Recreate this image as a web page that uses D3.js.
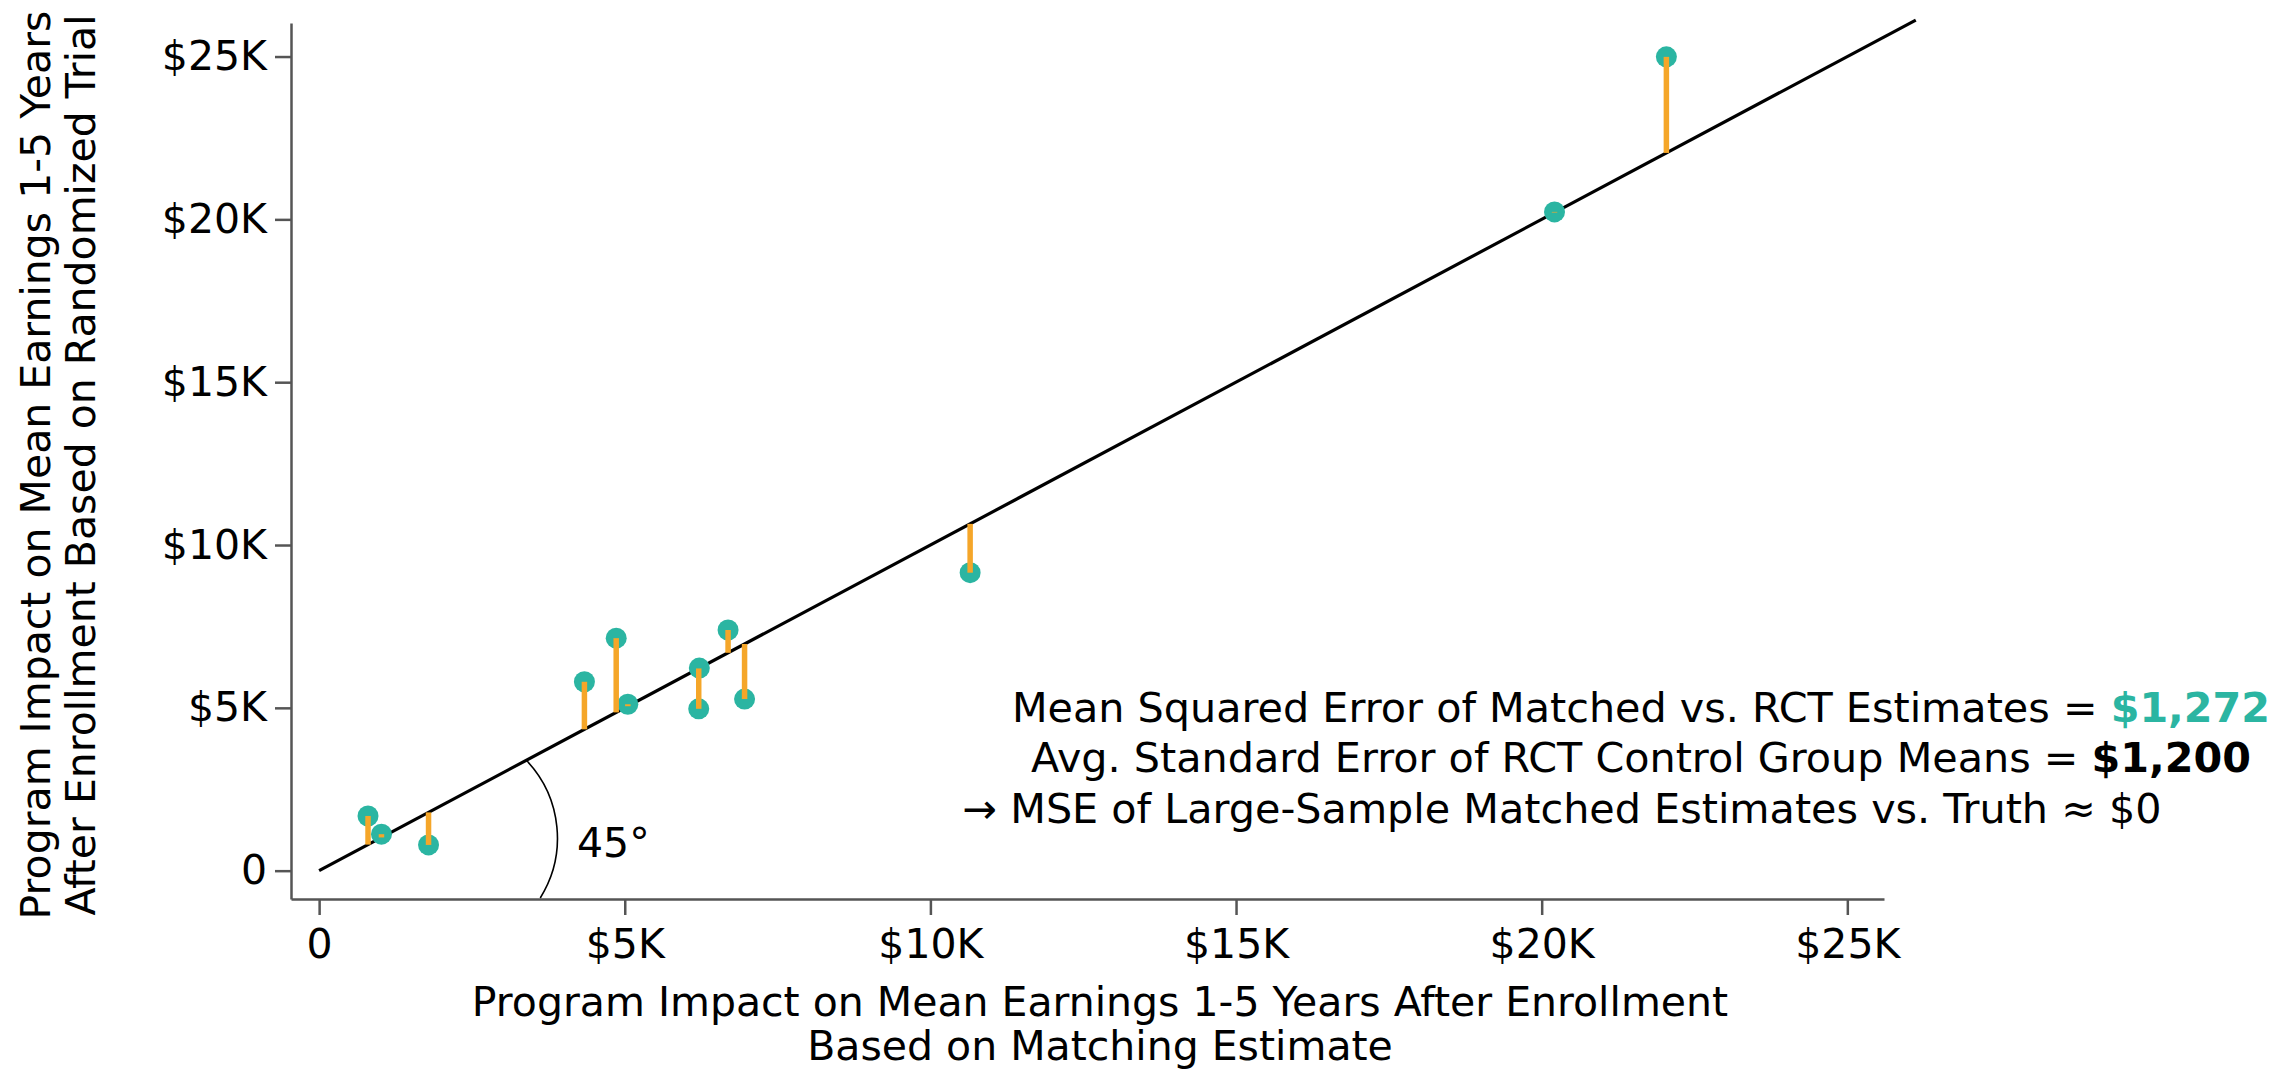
<!DOCTYPE html>
<html>
<head>
<meta charset="utf-8">
<script src="https://cdn.jsdelivr.net/npm/d3@7"></script>
<style>
  html, body { margin: 0; padding: 0; background: #fff; }
  svg { display: block; font-family: "DejaVu Sans", sans-serif; }
</style>
</head>
<body>
<svg id="chart" width="2280" height="1071"></svg>
<script>
// ---- data (values in dollars) ----
const matchedEstimates = [800, 1020, 1790, 4340, 4860, 5050, 6220, 6210, 6690, 6960, 10650, 20210, 22040];
const rctEstimates     = [1680, 1120, 790, 5800, 7140, 5110, 6220, 4970, 7390, 5270, 9150, 20230, 24990];
const tickValues = [0, 5000, 10000, 15000, 20000, 25000];
const tickLabels = ["0", "$5K", "$10K", "$15K", "$20K", "$25K"];
const diagonalEnd = 26120;
const arcCenter = [2050, 1000];
const xTitle = ["Program Impact on Mean Earnings 1-5 Years After Enrollment", "Based on Matching Estimate"];
const yTitle = ["Program Impact on Mean Earnings 1-5 Years", "After Enrollment Based on Randomized Trial"];
const noteLines = [
  [{t: "Mean Squared Error of Matched vs. RCT Estimates = "}, {t: "$1,272", bold: true, color: "#2bb5a2"}],
  [{t: "Avg. Standard Error of RCT Control Group Means = "}, {t: "$1,200", bold: true}],
  [{t: "\u2192 MSE of Large-Sample Matched Estimates vs. Truth \u2248 $0"}]
];

const teal = "#2bb5a2", orange = "#f5a629", axisGrey = "#555555";
const svg = d3.select("#chart");

const x = d3.scaleLinear().domain([-460, 25600]).range([291, 1884]);
const y = d3.scaleLinear().domain([-870, 26030]).range([899, 23]);

const fmt = v => tickLabels[tickValues.indexOf(v)];

// axes
const xAxis = svg.append("g").attr("transform", `translate(0,${y(-870)})`)
  .call(d3.axisBottom(x).tickValues(tickValues).tickFormat(fmt).tickSize(16).tickSizeOuter(0).tickPadding(14));
const yAxis = svg.append("g").attr("transform", `translate(${x(-460)},0)`)
  .call(d3.axisLeft(y).tickValues(tickValues).tickFormat(fmt).tickSize(16).tickSizeOuter(0).tickPadding(8));
[xAxis, yAxis].forEach(g => {
  g.select(".domain").attr("stroke", axisGrey).attr("stroke-width", 2.5);
  g.selectAll(".tick line").attr("stroke", axisGrey).attr("stroke-width", 2.5);
  g.selectAll(".tick text").attr("fill", "#000").style("font-size", "41px").style("font-family", "DejaVu Sans");
});

// 45-degree line
svg.append("line")
  .attr("x1", x(0)).attr("y1", y(0))
  .attr("x2", x(diagonalEnd)).attr("y2", y(diagonalEnd))
  .attr("stroke", "#000").attr("stroke-width", 3.2);

// angle arc
const cx = x(arcCenter[0]), cy = y(arcCenter[1]), r = 113;
let lo = arcCenter[0], hi = 12000;
for (let i = 0; i < 60; i++) {
  const m = (lo + hi) / 2;
  const d = Math.hypot(x(m) - cx, y(m) - cy);
  if (d < r) lo = m; else hi = m;
}
const topPt = [x(lo), y(lo)];
const yb = y(-870) - 1;
const botPt = [cx + Math.sqrt(r * r - (yb - cy) * (yb - cy)), yb];
svg.append("path")
  .attr("d", `M${topPt[0]},${topPt[1]} A${r},${r} 0 0 1 ${botPt[0]},${botPt[1]}`)
  .attr("fill", "none").attr("stroke", "#000").attr("stroke-width", 1.6);
svg.append("text").attr("x", 577).attr("y", 857)
  .style("font-size", "41px").text("45\u00b0");

// points
const pts = matchedEstimates.map((m, i) => ({m, r: rctEstimates[i]}));
svg.append("g").selectAll("circle").data(pts).join("circle")
  .attr("cx", d => x(d.m)).attr("cy", d => y(d.r)).attr("r", 10.5).attr("fill", teal);
svg.append("g").selectAll("line").data(pts).join("line")
  .attr("x1", d => x(d.m)).attr("x2", d => x(d.m))
  .attr("y1", d => y(d.r)).attr("y2", d => y(d.m))
  .attr("stroke", orange).attr("stroke-width", 5.5);

// annotation
const noteCenters = [1641, 1641, 1562], noteBase = [722, 772, 823];
noteLines.forEach((parts, i) => {
  const t = svg.append("text").attr("x", noteCenters[i]).attr("y", noteBase[i])
    .attr("text-anchor", "middle").style("font-size", "41.3px");
  parts.forEach(p => {
    t.append("tspan").text(p.t)
      .attr("font-weight", p.bold ? "bold" : "normal")
      .attr("fill", p.color || "#000");
  });
});

// axis titles
xTitle.forEach((s, i) => {
  svg.append("text").attr("x", 1100).attr("y", 1016 + i * 44)
    .attr("text-anchor", "middle").style("font-size", "41px").text(s);
});
yTitle.forEach((s, i) => {
  svg.append("text").attr("transform", `translate(${50 + i * 45},465) rotate(-90)`)
    .attr("text-anchor", "middle").style("font-size", "41px").text(s);
});
</script>
</body>
</html>
